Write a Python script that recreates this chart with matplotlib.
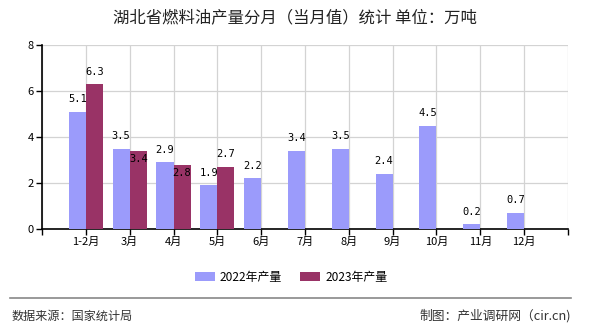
import matplotlib
matplotlib.use("Agg")
import matplotlib.pyplot as plt
import numpy as np

plt.rcParams['font.family'] = ['Noto Sans CJK SC', 'DejaVu Sans']

categories = ["1-2月", "3月", "4月", "5月", "6月", "7月", "8月", "9月", "10月", "11月", "12月"]
values_2022 = [5.1, 3.5, 2.9, 1.9, 2.2, 3.4, 3.5, 2.4, 4.5, 0.2, 0.7]
values_2023 = [6.3, 3.4, 2.8, 2.7]
series_names = ["2022年产量", "2023年产量"]
title = "湖北省燃料油产量分月（当月值）统计 单位：万吨"
source_text = "数据来源：国家统计局"
credit_text = "制图：产业调研网（cir.cn)"

# label offsets (points) for 2023 labels to avoid overlaps
offsets_2023 = [9, -6, -6, 9]

c2022 = "#9b9bfb"
c2023 = "#993366"

fig = plt.figure(figsize=(5.9, 3.3), dpi=100)
W, H = 590, 330
ax = fig.add_axes([42 / W, (H - 229) / H, (568 - 42) / W, (229 - 45) / H])

x = np.arange(1, len(categories) + 1)
bw = 0.39
x22 = x - bw / 2
x23 = x[:len(values_2023)] + bw / 2
ax.bar(x22, values_2022, width=bw, color=c2022, label=series_names[0], zorder=3)
ax.bar(x23, values_2023, width=bw, color=c2023, label=series_names[1], zorder=3)

for xi, v in zip(x22, values_2022):
    ax.annotate(f"{v:.1f}", (xi, v), xytext=(0, 9), textcoords="offset points",
                ha="center", va="center", fontsize=7.5, family="DejaVu Sans Mono", zorder=4)
for xi, v, off in zip(x23, values_2023, offsets_2023):
    ax.annotate(f"{v:.1f}", (xi, v), xytext=(0, off), textcoords="offset points",
                ha="center", va="center", fontsize=7.5, family="DejaVu Sans Mono", zorder=4)

ax.set_xlim(0, len(categories) + 1)
ax.set_ylim(0, 8)
ax.set_xticks(np.arange(0, len(categories) + 2))
ax.set_xticklabels([""] + categories + [""], fontsize=8)
ax.set_yticks([0, 2, 4, 6, 8])
ax.set_yticklabels(["0", "2", "4", "6", "8"], fontsize=8)
ax.grid(True, color="#d3d3d3", linewidth=0.9, zorder=0)
ax.set_axisbelow(True)
for s in ["top", "right"]:
    ax.spines[s].set_visible(False)
for s in ["left", "bottom"]:
    ax.spines[s].set_linewidth(1.2)
    ax.spines[s].set_color("black")
ax.tick_params(axis="both", length=4, width=1, direction="out", pad=2)

fig.text(295 / W, 1 - 18 / H, title, ha="center", va="center", fontsize=11.8, color="#222222")

fig.legend(loc="center", bbox_to_anchor=(291 / W, 1 - 277 / H), ncol=2, frameon=False,
           fontsize=8.6, handlelength=1.7, handleheight=0.8, columnspacing=1.5, handletextpad=0.4)

fig.add_artist(plt.Line2D([10 / W, 571 / W], [1 - 298 / H, 1 - 298 / H], color="#888888", linewidth=1.2))
fig.text(12 / W, 1 - 316 / H, source_text, ha="left", va="center", fontsize=8.7, color="#333333")
fig.text(571 / W, 1 - 316 / H, credit_text, ha="right", va="center", fontsize=9.2, color="#333333")

fig.savefig("out.png", dpi=100)
